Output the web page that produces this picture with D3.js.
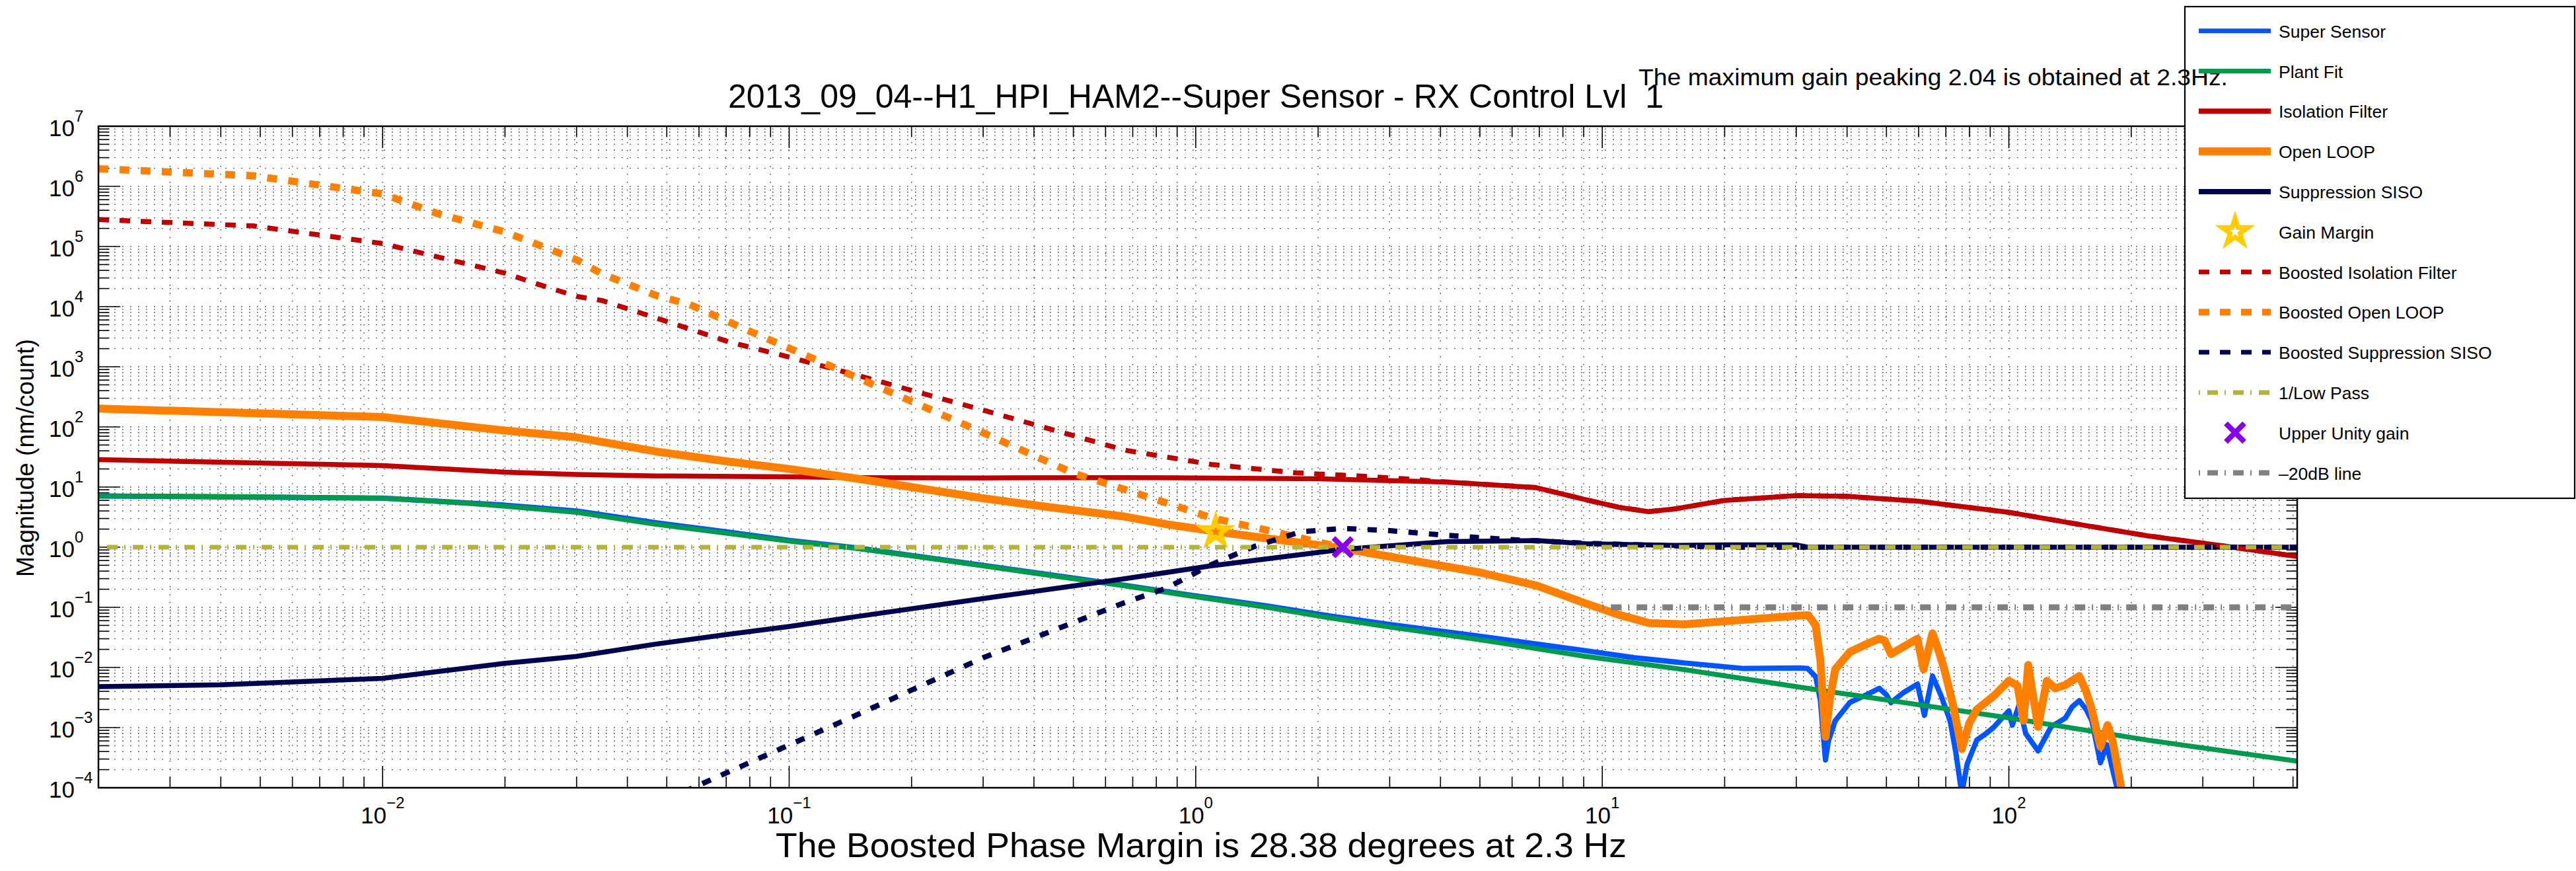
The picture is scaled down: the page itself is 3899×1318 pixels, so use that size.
<!DOCTYPE html>
<html><head><meta charset="utf-8">
<script src="https://cdn.jsdelivr.net/npm/d3@7"></script>
<style>
html,body{margin:0;padding:0;background:#fff;}
text{font-family:"Liberation Sans",Arial,Helvetica,sans-serif;white-space:pre;}
</style></head>
<body>
<svg id="chart" width="3899" height="1318"></svg>
<script>
// ---------- DATA ----------
const titleText = "2013_09_04--H1_HPI_HAM2--Super Sensor - RX Control Lvl  1";
const annotText = "The maximum gain peaking 2.04 is obtained at 2.3Hz.";
const xLabelText = "The Boosted Phase Margin is 28.38 degrees at 2.3 Hz";
const yLabelText = "Magnitude (nm/count)";

const xMajorTicks = [0.01, 0.1, 1, 10, 100];
const xTickExps = ["\u22122", "\u22121", "0", "1", "2"];
const yMajorTicks = [1e-4, 1e-3, 1e-2, 1e-1, 1, 10, 100, 1e3, 1e4, 1e5, 1e6, 1e7];
const yTickExps = ["\u22124", "\u22123", "\u22122", "\u22121", "0", "1", "2", "3", "4", "5", "6", "7"];

const legendNames = ["Super Sensor","Plant Fit","Isolation Filter","Open LOOP","Suppression SISO","Gain Margin",
  "Boosted Isolation Filter","Boosted Open LOOP","Boosted Suppression SISO","1/Low Pass","Upper Unity gain","\u201320dB line"];

const superSensorF = [0.002,0.01,0.02,0.03,0.047,0.071,0.1,0.145,0.2,0.3,0.45,0.66,1,1.5,2.13,3,5,9.1,12,15.9,22.3,30.5,32,33.5,34.4,35,35.4,36,37.4,40.6,45,48,50,51.3,55,59.6,62,64.9,68,71.7,74,76.6,79,83.4,88,92,100,102,106,110,118,127,137.7,143,149,155,160,168,174,180,186,190];
const superSensorM = [7.1,6.55,5.0,4.0,2.55,1.78,1.3,0.98,0.73,0.5,0.34,0.235,0.155,0.105,0.072,0.052,0.033,0.019,0.0145,0.0119,0.0096,0.0098,0.0096,0.007,0.0028,0.0007,0.00029,0.0006,0.0013,0.0026,0.0036,0.0045,0.0035,0.0026,0.0038,0.0053,0.0016,0.0072,0.0035,0.0013,0.0004,0.00008,0.00025,0.00062,0.0008,0.00103,0.0019,0.0011,0.0024,0.0008,0.00041,0.00103,0.00144,0.0022,0.0028,0.002,0.0013,0.00026,0.00052,0.0002,0.00008,0.00005];

const plantFitF = [0.002,0.005,0.01,0.015,0.02,0.03,0.047,0.071,0.1,0.145,0.2,0.3,0.45,0.66,1,1.5,2.13,3,5,9.1,15.9,30,60,100,219,512];
const plantFitM = [7.1,6.9,6.5,5.6,4.8,3.8,2.4,1.69,1.26,0.96,0.72,0.49,0.33,0.23,0.15,0.1,0.067,0.047,0.029,0.0153,0.0092,0.0048,0.0024,0.00145,0.00062,0.000277];

const isolationF = [0.002,0.01,0.02,0.03,0.047,0.1,0.145,0.3,0.66,1,2,4.16,6.87,9.1,11,13,15,20,30,40,60,100,154,219,355,512];
const isolationM = [28.5,22.8,17.7,16.2,15.3,14.8,14.3,14.2,14.3,14.2,13.7,12.1,9.8,6.15,4.6,3.9,4.3,6,7.2,7,5.8,3.8,2.3,1.55,1.0,0.70];

const openLoopF = [0.002,0.01,0.02,0.03,0.047,0.071,0.1,0.145,0.2,0.3,0.45,0.66,0.85,1.13,1.5,2.3,3.5,5,6.9,9.1,11,13,15.9,22.3,30.5,32.1,33.5,34.4,35.4,36.3,37.4,40.6,45,48,49.5,51.3,55,59.6,61.7,64.9,67,69.4,72.9,76.6,80,83.4,92,100,105,108.7,111.6,118,124,130,137.7,149,155,160,168,175,180,189,195];
const openLoopM = [202,146,87,67,39,26.5,20,14,10,6.5,4.5,3.27,2.4,1.81,1.4,0.96,0.58,0.38,0.23,0.116,0.075,0.055,0.052,0.062,0.073,0.074,0.05,0.013,0.0007,0.003,0.0093,0.018,0.025,0.03,0.028,0.0167,0.022,0.03,0.0093,0.037,0.02,0.0093,0.0024,0.00044,0.0012,0.002,0.0034,0.006,0.005,0.0013,0.011,0.00103,0.006,0.0045,0.0051,0.0072,0.004,0.002,0.00048,0.0011,0.0006,0.0001,0.00004];

const suppressionF = [0.002,0.004,0.01,0.02,0.03,0.047,0.071,0.1,0.145,0.3,0.66,1.09,2.3,4.16,6.9,9.1,15,20,30,32,40,512];
const suppressionM = [0.0048,0.00515,0.0066,0.0117,0.0153,0.0245,0.0356,0.048,0.0695,0.14,0.295,0.49,0.92,1.24,1.29,1.14,1.07,1.09,1.09,1.0,1.0,1.0];

const gainMarginF = [1.12];
const gainMarginM = [1.81];

const boostIsoF = [0.002,0.0048,0.01,0.02,0.0239,0.03,0.0347,0.047,0.071,0.1,0.145,0.3,0.67,1.09,1.77,2.52,3.5,4.16,6.87,9.1,11,13,15,20,30,40,60,100,154,219,355,512];
const boostIsoM = [2.8e5,2.2e5,1.12e5,3.6e4,2.4e4,1.48e4,1.26e4,6.5e3,2.6e3,1.45e3,740,190,41,23.8,17.2,15.3,13.3,12.1,9.8,6.15,4.6,3.9,4.3,6,7.2,7,5.8,3.8,2.3,1.55,1.0,0.70];

const boostOLF = [0.002,0.0048,0.01,0.0137,0.02,0.03,0.0347,0.047,0.057,0.083,0.145,0.3,0.5,0.66,0.85,1.09,1.47,1.87,2.3,3.5,5,6.9,9.1,11,13,15.9,22.3,30.5];
const boostOLM = [1.96e6,1.5e6,7.5e5,3.5e5,1.75e5,6e4,3.5e4,1.54e4,1.08e4,3.5e3,690,80,17,9.4,5.4,3.1,1.97,1.35,0.98,0.58,0.38,0.23,0.116,0.075,0.055,0.052,0.062,0.073];

const boostSuppF = [0.04,0.058,0.145,0.3,0.66,0.85,1.09,1.4,1.81,2.3,2.98,4.16,5.8,9.1,15,20,512];
const boostSuppM = [3.3e-5,1e-4,0.00157,0.0145,0.116,0.21,0.51,1.04,1.8,2.05,1.89,1.57,1.35,1.16,1.05,1.0,1.0];

const lowPassF = [0.002,512];
const lowPassM = [1,1];

const unityF = [2.3];
const unityM = [1.0];

const db20F = [10,512];
const db20M = [0.1,0.1];

// ---------- LAYOUT ----------
const svg = d3.select("#chart");
const L = 149, R = 3477, T = 191, B = 1192;
const x = d3.scaleLog().domain([0.002, 512]).range([L, R]);
const y = d3.scaleLog().domain([1e-4, 1e7]).range([B, T]);

svg.append("rect").attr("width",3899).attr("height",1318).attr("fill","#fff");

svg.append("defs").append("clipPath").attr("id","clip")
  .append("rect").attr("x",L).attr("y",T).attr("width",R-L).attr("height",B-T);

const xAll = [];
for (let e=-3; e<=2; e++) for (let m=1; m<=9; m++) { const v=m*Math.pow(10,e); if (v>=0.002*0.9999 && v<=512) xAll.push(v); }
const yAll = [];
for (let e=-4; e<=6; e++) for (let m=1; m<=9; m++) yAll.push(m*Math.pow(10,e));
yAll.push(1e7);

// grid
const grid = svg.append("g").attr("stroke","#3a3a3a").attr("stroke-width",1.4).attr("stroke-dasharray","1.6,10.4").attr("fill","none");
xAll.forEach(v=>{ const px=x(v); if(px>L+1 && px<R-1) grid.append("line").attr("x1",px).attr("x2",px).attr("y1",T).attr("y2",B); });
yAll.forEach(v=>{ const py=y(v); if(py>T+1 && py<B-1) grid.append("line").attr("y1",py).attr("y2",py).attr("x1",L).attr("x2",R); });

// ticks
const ticks = svg.append("g").attr("stroke","#000").attr("stroke-width",1.6);
const isMajor = v => Math.abs(Math.log10(v)-Math.round(Math.log10(v)))<1e-9;
xAll.forEach(v=>{ const px=x(v), len=isMajor(v)?33:16.5;
  ticks.append("line").attr("x1",px).attr("x2",px).attr("y1",B).attr("y2",B-len);
  ticks.append("line").attr("x1",px).attr("x2",px).attr("y1",T).attr("y2",T+len); });
yAll.forEach(v=>{ const py=y(v), len=isMajor(v)?33:16.5;
  ticks.append("line").attr("y1",py).attr("y2",py).attr("x1",L).attr("x2",L+len);
  ticks.append("line").attr("y1",py).attr("y2",py).attr("x1",R).attr("x2",R-len); });

// ---------- SERIES ----------
const line = d3.line().x(d=>x(d[0])).y(d=>y(d[1]));
const plot = svg.append("g").attr("clip-path","url(#clip)");
function series(F, M, color, width, dash){
  const p = plot.append("path").datum(F.map((f,i)=>[f,M[i]]))
    .attr("d", line).attr("fill","none").attr("stroke",color).attr("stroke-width",width)
    .attr("stroke-linejoin","round");
  if (dash) p.attr("stroke-dasharray",dash);
  return p;
}
function starPath(Ro, Ri){
  let d="";
  for (let k=0;k<10;k++){ const a=-Math.PI/2 + k*Math.PI/5; const r=(k%2===0)?Ro:Ri;
    d += (k===0?"M":"L") + (r*Math.cos(a)).toFixed(2)+","+(r*Math.sin(a)).toFixed(2); }
  return d+"Z";
}
const STAR = starPath(32, 32*0.382) + starPath(9, 9*0.382);
const XMARK = "M-14,-14L14,14M-14,14L14,-14";

const C = {blue:"#0055ff", green:"#009a4e", red:"#c00000", orange:"#ff8000", navy:"#000050",
           gold:"#ffcc00", olive:"#b4b43a", purple:"#8800ee", gray:"#808080"};

series(superSensorF, superSensorM, C.blue, 8);
series(plantFitF, plantFitM, C.green, 7.5);
series(isolationF, isolationM, C.red, 7.5);
series(openLoopF, openLoopM, C.orange, 12);
series(suppressionF, suppressionM, C.navy, 7.5);
gainMarginF.forEach((f,i)=> plot.append("path").attr("d",STAR).attr("fill",C.gold).attr("fill-rule","evenodd")
   .attr("transform",`translate(${x(f)},${y(gainMarginM[i])})`));
series(boostIsoF, boostIsoM, C.red, 7.5, "16,16");
series(boostOLF, boostOLM, C.orange, 11, "15,17");
series(boostSuppF, boostSuppM, C.navy, 8, "14,17");
series(lowPassF, lowPassM, C.olive, 7, "2,11,16,10");
unityF.forEach((f,i)=> plot.append("path").attr("d",XMARK).attr("stroke",C.purple).attr("stroke-width",8).attr("fill","none")
   .attr("transform",`translate(${x(f)},${y(unityM[i])})`));
series(db20F, db20M, C.gray, 9, "2,11,16,10");

// axes box
svg.append("rect").attr("x",L).attr("y",T).attr("width",R-L).attr("height",B-T)
  .attr("fill","none").attr("stroke","#000").attr("stroke-width",2.5);

// tick labels
const fontBase = 35, fontSup = 24;
xMajorTicks.forEach((v,i)=>{
  const t = svg.append("text").attr("x",x(v)).attr("y",B+54).attr("text-anchor","middle").attr("font-size",fontBase);
  t.append("tspan").text("10");
  t.append("tspan").attr("font-size",fontSup).attr("dy",-23).text(xTickExps[i]);
});
yMajorTicks.forEach((v,i)=>{
  const t = svg.append("text").attr("x",74).attr("y",y(v)+15).attr("text-anchor","start").attr("font-size",fontBase);
  t.append("tspan").text("10");
  t.append("tspan").attr("font-size",fontSup).attr("dy",-22).text(yTickExps[i]);
});

// titles
svg.append("text").attr("x",1810).attr("y",163).attr("text-anchor","middle").attr("font-size",50)
  .attr("textLength",1416).attr("lengthAdjust","spacingAndGlyphs").text(titleText);
svg.append("text").attr("x",1818).attr("y",1297).attr("text-anchor","middle").attr("font-size",52.5)
  .attr("textLength",1288).attr("lengthAdjust","spacingAndGlyphs").text(xLabelText);
svg.append("text").attr("transform","translate(51,693) rotate(-90)").attr("text-anchor","middle").attr("font-size",37).text(yLabelText);

// ---------- LEGEND ----------
const lg = svg.append("g");
lg.append("rect").attr("x",3307).attr("y",10).attr("width",590).attr("height",744)
  .attr("fill","#fff").attr("stroke","#000").attr("stroke-width",2.2);
// annotation sits over the legend background but under its entries
svg.append("text").attr("x",2480).attr("y",129).attr("text-anchor","start").attr("font-size",35)
  .attr("textLength",892).attr("lengthAdjust","spacingAndGlyphs").text(annotText);
const lgItems = svg.append("g");
const legStyles = [
  {c:C.blue,w:7},{c:C.green,w:7},{c:C.red,w:8},{c:C.orange,w:12},{c:C.navy,w:8},{marker:"star"},
  {c:C.red,w:7,d:"16,16"},{c:C.orange,w:10,d:"16,16"},{c:C.navy,w:7,d:"16,16"},
  {c:C.olive,w:7,d:"2,11,16,10"},{marker:"x"},{c:C.gray,w:8,d:"2,11,16,10"}];
legendNames.forEach((name,i)=>{
  const cy = 46.7 + i*60.8;
  const s = legStyles[i];
  if (s.marker==="star") {
    lgItems.append("path").attr("d",STAR).attr("fill",C.gold).attr("fill-rule","evenodd").attr("transform",`translate(3383,${cy})`);
  } else if (s.marker==="x") {
    lgItems.append("path").attr("d",XMARK).attr("stroke",C.purple).attr("stroke-width",8).attr("fill","none").attr("transform",`translate(3383,${cy})`);
  } else {
    const l = lgItems.append("line").attr("x1",3328).attr("x2",3437).attr("y1",cy).attr("y2",cy)
      .attr("stroke",s.c).attr("stroke-width",s.w);
    if (s.d) l.attr("stroke-dasharray",s.d);
  }
  lgItems.append("text").attr("x",3449).attr("y",cy+10).attr("font-size",26.5).text(name);
});
</script>
</body></html>
